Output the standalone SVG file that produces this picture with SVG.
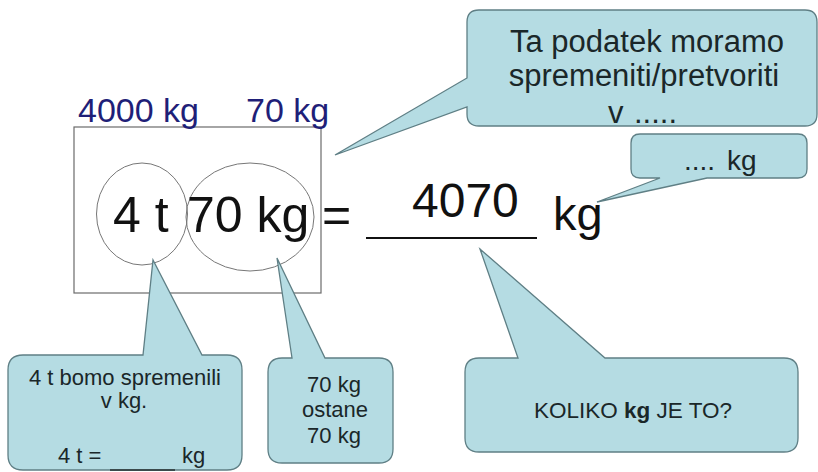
<svg xmlns="http://www.w3.org/2000/svg" width="818" height="472" viewBox="0 0 818 472">
<style>
text{font-family:"Liberation Sans",Arial,sans-serif;}
.call{fill:#b5dce3;stroke:#5f7f85;stroke-width:1.3;}
.ct{fill:#1a2729;}
.main{fill:#111;}
.navy{fill:#1f1f78;}
.ring{fill:none;stroke:#777;stroke-width:1;}
</style>
<rect width="818" height="472" fill="#fff"/>
<g id="frame">
<rect x="74" y="127" width="247" height="166" fill="none" stroke="#6b6b6b" stroke-width="1.2"/>
<text class="navy" x="78" y="122" font-size="34">4000 kg</text>
<text class="navy" x="246" y="122" font-size="34">70 kg</text>
</g>
<g id="equation">
<ellipse class="ring" cx="142" cy="214" rx="45.5" ry="51"/>
<ellipse class="ring" cx="250" cy="217" rx="64" ry="54"/>
<text class="main" x="113" y="232" font-size="50">4 t</text>
<text class="main" x="187" y="232" font-size="50">70 kg</text>
<text class="main" x="322" y="232" font-size="50">=</text>
<text class="main" x="412" y="217" font-size="48">4070</text>
<line x1="366" y1="238" x2="537" y2="238" stroke="#111" stroke-width="2"/>
<text class="main" x="553" y="230" font-size="47">kg</text>
</g>
<g id="callout-top">
<path class="call" d="M479,10 H805 Q817,10 817,22 V114 Q817,126 805,126 H479 Q467,126 467,114 V107 L335,155 L467,78 V22 Q467,10 479,10 Z"/>
<text class="ct" font-size="31" text-anchor="middle"><tspan x="647" y="52">Ta podatek moramo</tspan><tspan x="644" y="86">spremeniti/pretvoriti</tspan></text>
<text class="ct" font-size="31"><tspan x="608" y="123">v</tspan><tspan x="634" y="123">.....</tspan></text>
</g>
<g id="callout-kg">
<path class="call" d="M640,134 H798 Q807,134 807,143 V169 Q807,178 798,178 H707 L597,202 L660,178 H640 Q631,178 631,169 V143 Q631,134 640,134 Z"/>
<text class="ct" font-size="28"><tspan x="684" y="170">....</tspan><tspan x="727" y="170">kg</tspan></text>
</g>
<g id="callout-4t">
<path class="call" d="M23,355 H143 L153,260 L202,355 H227 Q242,355 242,370 V455 Q242,470 227,470 H23 Q8,470 8,455 V370 Q8,355 23,355 Z"/>
<text class="ct" font-size="22" text-anchor="middle"><tspan x="125" y="385">4 t bomo spremenili</tspan><tspan x="124" y="408">v kg.</tspan></text>
<text class="ct" font-size="22"><tspan x="58" y="463">4 t =</tspan><tspan x="182" y="463">kg</tspan></text>
<line x1="110" y1="470" x2="175" y2="470" stroke="#3a4a4c" stroke-width="2"/>
</g>
<g id="callout-70">
<path class="call" d="M282,358 H292 L277,258 L325,358 H379 Q393,358 393,372 V449 Q393,463 379,463 H282 Q268,463 268,449 V372 Q268,358 282,358 Z"/>
<text class="ct" font-size="22" text-anchor="middle"><tspan x="334" y="392">70 kg</tspan><tspan x="335" y="417">ostane</tspan><tspan x="334" y="443">70 kg</tspan></text>
</g>
<g id="callout-koliko">
<path class="call" d="M479,358 H518 L480,249 L605,358 H784 Q798,358 798,372 V438 Q798,452 784,452 H479 Q465,452 465,438 V372 Q465,358 479,358 Z"/>
<text class="ct" font-size="22.5" text-anchor="middle" x="633" y="418">KOLIKO <tspan font-weight="bold">kg</tspan> JE TO?</text>
</g>
<g id="connectors"></g>
</svg>
